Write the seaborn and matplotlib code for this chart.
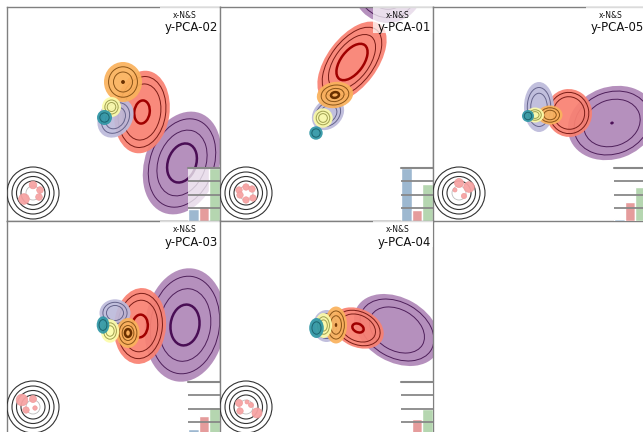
import numpy as np
import pandas as pd
import matplotlib
matplotlib.use("Agg")
import matplotlib.pyplot as plt
import seaborn as sns
from matplotlib.patches import Ellipse, Circle, Rectangle

sns.set_theme(style="white")
plt.rcParams['font.family'] = ['DejaVu Sans']

# ---------------- data ----------------
PANELS = ["y-PCA-02", "y-PCA-01", "y-PCA-05", "y-PCA-03", "y-PCA-04"]
X_LABEL = "x-N&S"
CLUSTERS = ["C-purple", "C-red", "C-lavender", "C-orange", "C-yellow", "C-teal"]

# cluster centres / spreads / tilt per panel (order of CLUSTERS)
CENTER_X = [
    [175, 135, 108.5, 116, 104.5, 97.5],
    [168, 132, 108, 115, 103, 96],
    [179, 136, 106, 117, 102, 95],
    [178, 133, 108, 121, 103, 96],
    [177, 138, 106.5, 116, 103.5, 96.5],
]
CENTER_Y = [
    [156, 105, 111, 75, 100, 110.5],
    [-22, 55, 107, 88, 111, 126],
    [116, 106, 100, 108, 108, 109],
    [104, 105, 92, 112, 110, 104],
    [109, 107, 105, 104, 104.5, 107],
]
SPREAD_X = [
    [37, 27.5, 16.5, 19, 9.5, 7.5],
    [36, 47, 18, 18.3, 9.7, 6.7],
    [45, 23, 15, 12.5, 9, 6],
    [40, 26, 15.5, 11.7, 9.2, 6.3],
    [46, 27, 13.5, 11, 8.5, 7.3],
]
SPREAD_Y = [
    [53, 41.5, 21, 20, 10, 7.5],
    [38, 25, 14, 13, 9.7, 6.7],
    [36, 24, 25, 9.5, 7.5, 6],
    [57, 38, 13.7, 15, 11.7, 8.7],
    [32, 19, 16, 18.5, 12.5, 10],
]
TILT = [
    [20, 8, 35, 0, 0, 0],
    [0, -53, -45, -10, 0, 0],
    [-20, -10, 0, 0, 0, 0],
    [8, 5, 0, 0, 0, 0],
    [30, 25, 0, 0, 0, 0],
]

# small pink blobs inside the target (offset x, offset y, radius)
BLOB_DX = [[0, 7, 6, -9], [-7, 0, 6, 7, 0, -6], [0, 10, 5, -4], [-11, 0, -7, 2], [-7, -6, 5, 11, 1]]
BLOB_DY = [[-8, -3, 4, 6], [-3, -6, -4, 5, 7, 2], [-10, -6, 3, -3], [-7, -8, 3, 1], [-4, 4, -2, 6, -5]]
BLOB_R = [[3.8, 3.3, 3.3, 5.3], [3.2, 3.2, 3.2, 3.2, 3.2, 3.2], [4.5, 5.3, 2.6, 2], [5.8, 3.5, 3.2, 2.2], [3.5, 3.2, 2.5, 5, 2]]

# inset bar values
BAR_CATS = ["blue", "red", "green"]
BAR_BLUE = [0.9, 4.0, 0.15, 0.45, 0.25]
BAR_RED = [1.1, 0.8, 1.45, 1.45, 1.2]
BAR_GREEN = [4.0, 2.8, 2.6, 2.15, 2.0]

# ---------------- styles ----------------
FILL = ['#b088b8', '#f98172', '#bdbadb', '#fab25c', '#fcfcaa', '#3097a6']
LINE = ['#4e1f5a', '#7a1c16', '#66648c', '#8a5418', '#a0a050', '#1c6570']
THICK_COL = ['#4a0e55', '#a00000', '#555', '#6a3000', '#888', '#155']
THIN_LEVELS = [[0.86, 0.64], [0.86, 0.68], [0.78, 0.55], [0.76, 0.5], [0.7, 0.45], [0.62]]
# per panel / cluster inner emphasised contour (0 = none, small = dot)
THICK = [
    [0.38, 0.28, 0, 0.08, 0, 0],
    [0, 0.45, 0, 0.22, 0, 0],
    [0.03, 0, 0, 0, 0, 0],
    [0.36, 0.3, 0, 0.26, 0, 0],
    [0, 0.22, 0, 0.08, 0, 0],
]
BAR_COLORS = ['#9db8d0', '#e59c9c', '#b5d6b0']

W, H = 643, 432
fig = plt.figure(figsize=(W / 100, H / 100), dpi=100)
PW, PH = 213, 214
ORIGINS = [(7, 7), (220, 7), (433, 7), (7, 221), (220, 221)]

for p, name in enumerate(PANELS):
    ox, oy = ORIGINS[p]
    ax = fig.add_axes([ox / W, 1 - (oy + PH) / H, PW / W, PH / H])
    ax.set_xlim(0, PW)
    ax.set_ylim(PH, 0)
    ax.set_xticks([])
    ax.set_yticks([])
    ax.set_facecolor('white')
    for s in ax.spines.values():
        s.set_color('#808080')
        s.set_linewidth(1.0)
        s.set_visible(True)

    for c in range(len(CLUSTERS)):
        cx, cy = CENTER_X[p][c], CENTER_Y[p][c]
        sx, sy, t = SPREAD_X[p][c], SPREAD_Y[p][c], TILT[p][c]
        z = 2 + c
        ax.add_patch(Ellipse((cx, cy), 2 * sx, 2 * sy, angle=t, fc=FILL[c],
                             ec='none', alpha=0.93, zorder=z))
        for lv in THIN_LEVELS[c]:
            ax.add_patch(Ellipse((cx, cy), 2 * sx * lv, 2 * sy * lv, angle=t,
                                 fill=False, ec=LINE[c], lw=0.7, zorder=z + 0.1))
        lv = THICK[p][c]
        if lv > 0:
            col = THICK_COL[c]
            ax.add_patch(Ellipse((cx, cy), 2 * sx * lv, 2 * sy * lv, angle=t,
                                 fill=lv < 0.12, fc=col, ec=col,
                                 lw=1.8 if lv >= 0.12 else 0.5, zorder=z + 0.2))

    # target rings
    tx, ty = 26, 186
    for r in [26, 21, 16.5, 12]:
        ax.add_patch(Circle((tx, ty), r, fill=False, ec='#333333', lw=0.8, zorder=10))
    ax.add_patch(Circle((tx, ty), 7, fill=False, ec='#bbbbbb', lw=0.6, zorder=10))
    for dx, dy, r in zip(BLOB_DX[p], BLOB_DY[p], BLOB_R[p]):
        ax.add_patch(Circle((tx + dx, ty + dy), r, fc='#f7a3a3', ec='#ee9a9a',
                            lw=0.5, alpha=0.95, zorder=11))

    # label box + labels
    ax.add_patch(Rectangle((153, 0), 60, 26, fc='white', ec='none', alpha=0.72, zorder=12))
    ax.text(178, 8, X_LABEL, ha='center', va='center', fontsize=5.5, color='#111111', zorder=13)
    ax.text(184, 21, name, ha='center', va='center', fontsize=8.5, color='#111111', zorder=13)

    # inset bars
    ins = ax.inset_axes([181 / PW, 0.0, 32 / PW, 53 / PH])
    ins.set_zorder(14)
    ins.patch.set_facecolor('white')
    ins.patch.set_alpha(0.72)
    df = pd.DataFrame({"cat": BAR_CATS, "val": [BAR_BLUE[p], BAR_RED[p], BAR_GREEN[p]]})
    sns.barplot(data=df, x="cat", y="val", hue="cat", palette=BAR_COLORS, width=1.0,
                saturation=1, legend=False, ax=ins, zorder=1)
    ins.set_ylim(0, 4)
    ins.set_xlim(-0.5, 2.5)
    for g in [1, 2, 3]:
        ins.axhline(g, color='#888888', lw=1.3, zorder=5)
    ins.axhline(4, color='#888888', lw=1.5, zorder=5, clip_on=False)
    ins.set_xticks([])
    ins.set_yticks([])
    ins.set_xlabel("")
    ins.set_ylabel("")
    for s in ins.spines.values():
        s.set_visible(False)

fig.savefig("out.png", dpi=100)
